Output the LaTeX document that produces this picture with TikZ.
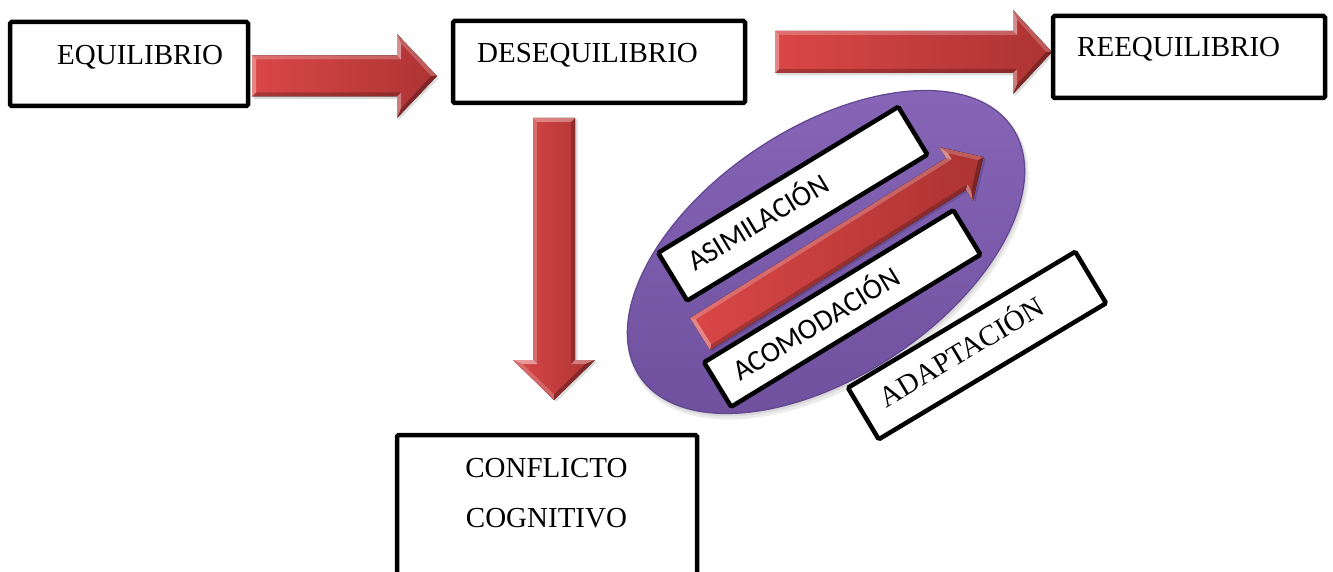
\documentclass[tikz,border=0pt]{standalone}
\usepackage{fontspec}
\setmainfont{Liberation Serif}
\newfontfamily\calfont{Carlito}
\usetikzlibrary{shapes.geometric}
\definecolor{arrL}{HTML}{DA4747}
\definecolor{arrR}{HTML}{AD3333}
\definecolor{purA}{HTML}{8866B8}
\definecolor{purB}{HTML}{6E509E}
\definecolor{purE}{HTML}{624690}
% x, y, angle, length, shaft half-width, head half-width, head length, extra scope options
\newcommand{\bevarrow}[8]{%
\begin{scope}[shift={(#1,#2)},rotate=#3,#8]
\pgfmathsetmacro{\aL}{#4}\pgfmathsetmacro{\aw}{#5}\pgfmathsetmacro{\ah}{#6}%
\pgfmathsetmacro{\ab}{#4-#7}\pgfmathsetmacro{\ad}{4}%
\fill[black,opacity=.14,xshift=1.5pt,yshift=-2.5pt] (0,-\aw) -- (\ab,-\aw) -- (\ab,-\ah) -- (\aL,0) -- (\ab,\ah) -- (\ab,\aw) -- (0,\aw) -- cycle;
\fill[left color=arrL,right color=arrR] (0,-\aw) -- (\ab,-\aw) -- (\ab,-\ah) -- (\aL,0) -- (\ab,\ah) -- (\ab,\aw) -- (0,\aw) -- cycle;
\fill[white,opacity=.22] (0,-\aw) -- (\ab,-\aw) -- (\ab+\ad,-\aw+\ad) -- (\ad,-\aw+\ad) -- cycle;
\fill[white,opacity=.35] (0,-\aw) -- (\ad,-\aw+\ad) -- (\ad,\aw-\ad) -- (0,\aw) -- cycle;
\fill[black,opacity=.22] (0,\aw) -- (\ad,\aw-\ad) -- (\ab+\ad,\aw-\ad) -- (\ab,\aw) -- cycle;
\fill[white,opacity=.45] (\ab,-\aw) -- (\ab,-\ah) -- (\ab+\ad,-\ah+2.4*\ad) -- (\ab+\ad,-\aw+\ad) -- cycle;
\fill[white,opacity=.35] (\ab,\aw) -- (\ab,\ah) -- (\ab+\ad,\ah-2.4*\ad) -- (\ab+\ad,\aw-\ad) -- cycle;
\fill[white,opacity=.2] (\ab,-\ah) -- (\aL,0) -- (\aL-1.45*\ad,0) -- (\ab+\ad,-\ah+2.4*\ad) -- cycle;
\fill[black,opacity=.28] (\ab,\ah) -- (\aL,0) -- (\aL-1.45*\ad,0) -- (\ab+\ad,\ah-2.4*\ad) -- cycle;
\end{scope}}
\begin{document}
\begin{tikzpicture}[x=1pt,y=-1pt,
  box/.style={draw=black,line width=4.5pt,fill=white,rounded corners=1.5pt,inner sep=0pt},
  lbl/.style={inner sep=0pt,font=\fontsize{29}{34}\selectfont},
  clbl/.style={inner sep=0pt,font=\calfont\fontsize{29}{34}\selectfont}]
\useasboundingbox (0,0) rectangle (1333,572);
\clip (0,0) rectangle (1333,572);
% ellipse with soft shadow
\fill[black,opacity=.08,rotate around={33.7:(828,256)}] (828,256) ellipse [x radius=226,y radius=126];
\fill[black,opacity=.08,rotate around={33.7:(827,254)}] (827,254) ellipse [x radius=225,y radius=125];
\node[ellipse,inner sep=0pt,minimum width=448pt,minimum height=248pt,rotate=33.7,
  top color=purA,bottom color=purB,draw=purE,line width=1.2pt] (elip) at (826,252) {};
% boxes inside ellipse
\node[box,rotate=31.3,minimum width=281pt,minimum height=56pt] (asimbox) at (792.75,203.75) {};
\node[clbl,rotate=31.3,anchor=base west] (asim) at (695,272) {ASIMILACIÓN};
\node[box,rotate=31.4,minimum width=292pt,minimum height=52pt] (acombox) at (842.25,308.5) {};
\node[clbl,rotate=31.4,anchor=base west] (acom) at (740,382) {ACOMODACIÓN};
\bevarrow{700}{334}{32}{334}{18.75}{31.5}{32}{}
\node[box,rotate=30.9,minimum width=265pt,minimum height=60pt] (adapbox) at (977,345.5) {};
\node[lbl,rotate=30.9,anchor=base west] (adap) at (886.7,408.3) {ADAPTACIÓN};
% block arrows
\bevarrow{252}{76}{0}{185}{20.5}{42}{40}{}
\bevarrow{775}{52}{0}{277}{21}{42}{39}{}
\bevarrow{554}{118}{-90}{282}{21}{41}{40}{yscale=-1}
% boxes
\node[box,minimum width=238pt,minimum height=84pt] (equibox) at (129,64) {};
\node[lbl,anchor=base west] (equi) at (57,65) {EQUILIBRIO};
\node[box,minimum width=292pt,minimum height=82pt] (desbox) at (599,62) {};
\node[lbl,anchor=base west] (des) at (477,63) {DESEQUILIBRIO};
\node[box,minimum width=272pt,minimum height=82pt] (reebox) at (1189,57) {};
\node[lbl,anchor=base west] (ree) at (1077,57) {REEQUILIBRIO};
\node[box,minimum width=300pt,minimum height=170pt] (confbox) at (547,520) {};
\node[lbl,anchor=base] (conf1) at (546.5,477) {CONFLICTO};
\node[lbl,anchor=base] (conf2) at (546.5,527) {COGNITIVO};
\end{tikzpicture}
\end{document}
